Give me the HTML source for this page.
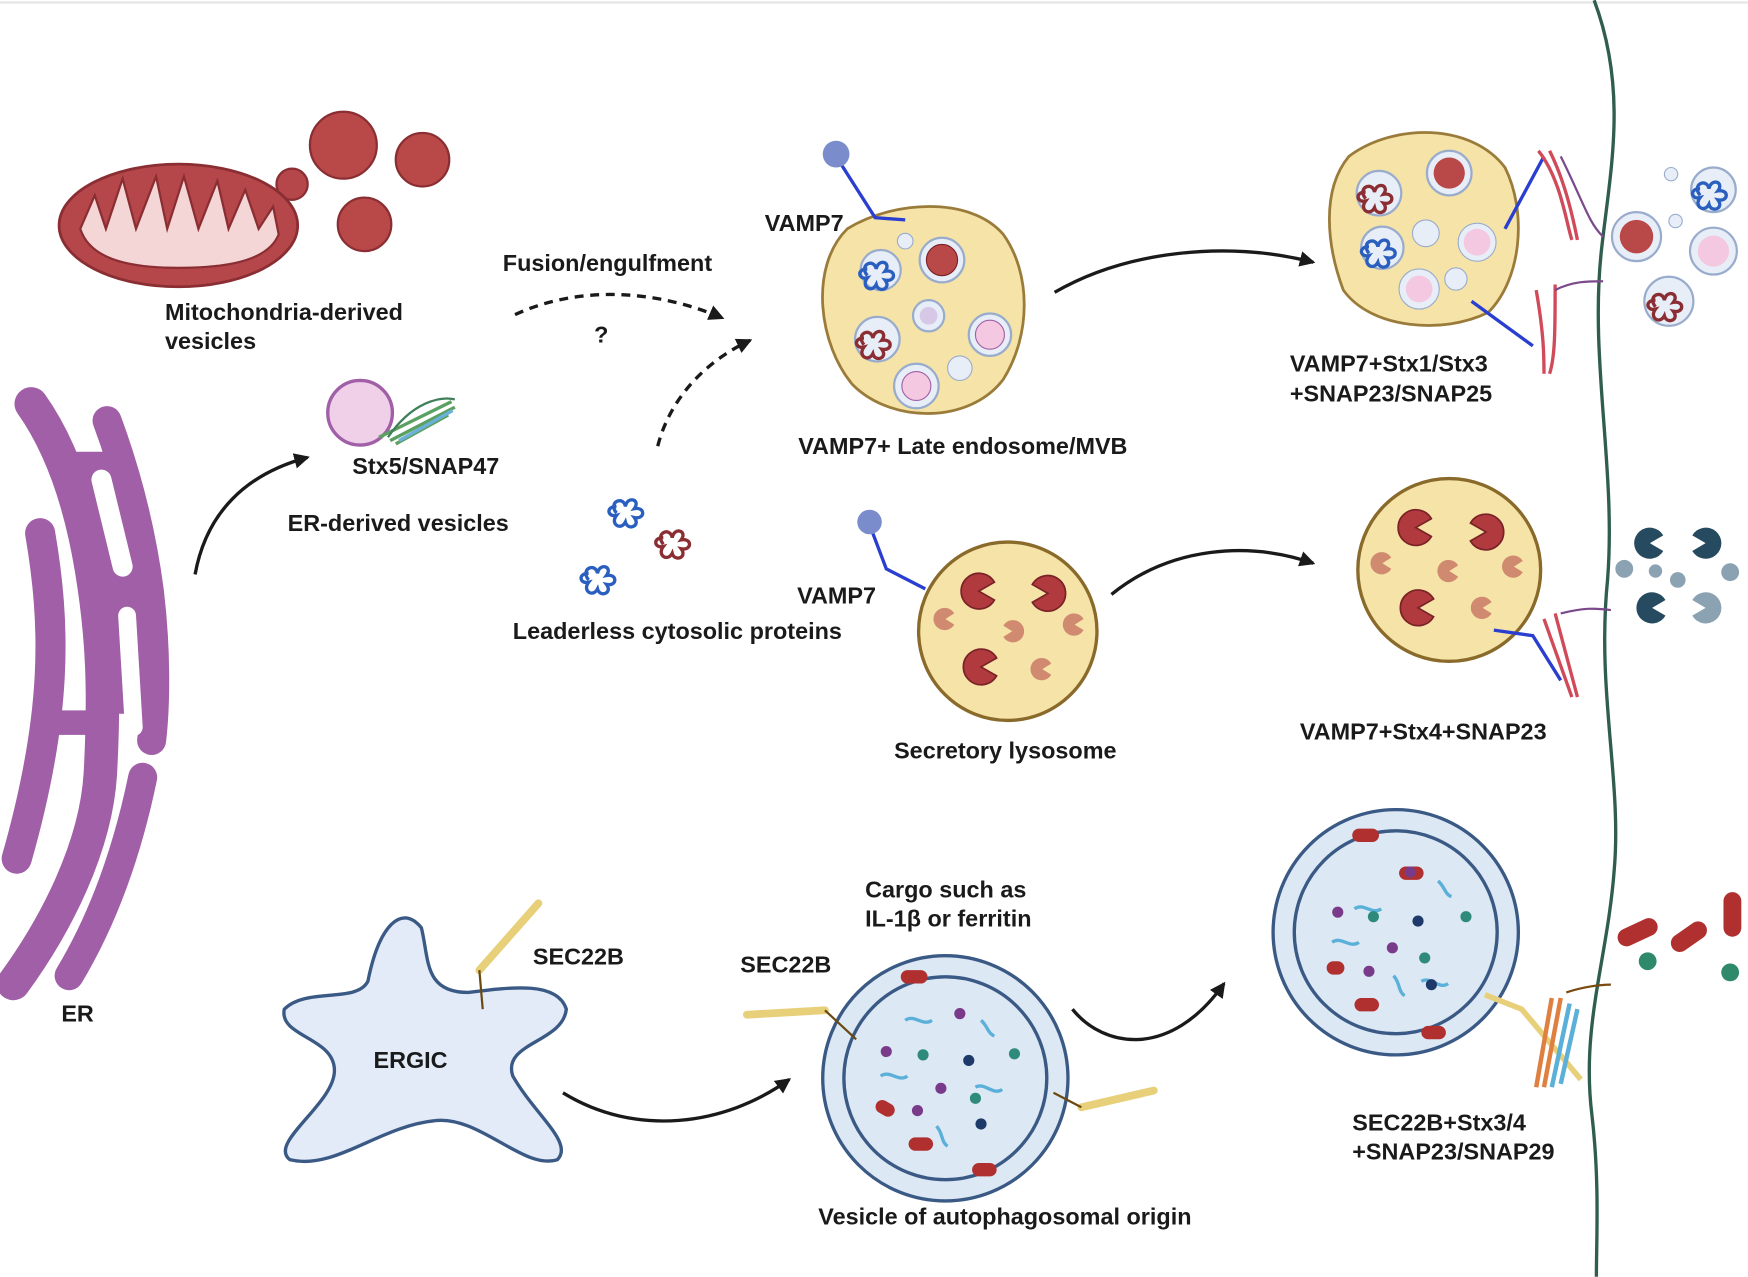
<!DOCTYPE html>
<html><head><meta charset="utf-8"><style>
html,body{margin:0;padding:0;background:#fff;}
svg{display:block;}
text{font-family:"Liberation Sans",sans-serif;font-weight:bold;font-size:21px;fill:#1a1a1a;}
</style></head><body>
<svg width="1748" height="1277" viewBox="0 0 1568 1145" xmlns="http://www.w3.org/2000/svg">
<defs>
<marker id="ah2" markerWidth="14" markerHeight="14" refX="12" refY="7" orient="auto" markerUnits="userSpaceOnUse"><path d="M0,0 L14,7 L0,14 Z" fill="#1a1a1a"/></marker>
<g id="pac"><path d="M0,0 L14,-8 A16,16 0 1 0 14,8 Z" fill="#b03a3e" stroke="#7a2226" stroke-width="1.5"/></g>
<g id="pacs"><path d="M0,0 L8,-5 A10,10 0 1 0 8,5 Z" fill="#d08a70"/></g>
<g id="squig"><path d="M-12,5 c-8,-10 6,-16 8,-6 c2,-10 14,-6 8,2 c10,-2 10,10 0,8 c6,8 -6,12 -8,4 c-4,8 -14,2 -8,-6 c-8,2 -10,-8 0,-8" fill="none" stroke-width="3"/></g>
</defs>
<line x1="0" y1="2" x2="1568" y2="2" stroke="#e5e5e5" stroke-width="2"/>
<!-- membrane -->
<path d="M1430,0 C1460,80 1445,150 1437,220 C1425,320 1450,420 1442,520 C1432,620 1455,700 1448,780 C1442,860 1418,920 1428,1000 C1435,1060 1432,1110 1432,1145" fill="none" stroke="#2f5e4e" stroke-width="3"/>
<!-- mitochondrion -->
<circle cx="262" cy="165" r="14" fill="#b5474b" stroke="#8a2e33" stroke-width="2"/>
<ellipse cx="160" cy="202" rx="107" ry="55" fill="#b5474b" stroke="#8a2e33" stroke-width="2.5"/>
<path d="M72,205 L85,175 L95,205 L110,160 L122,205 L140,158 L150,205 L165,158 L178,205 L195,162 L205,205 L220,170 L232,205 L245,185 L250,210 C240,235 200,240 160,240 C110,240 80,230 72,205 Z" fill="#f4d6d6" stroke="#8a2e33" stroke-width="2"/>
<circle cx="308" cy="130" r="30" fill="#b94848" stroke="#8a2e33" stroke-width="2"/>
<circle cx="379" cy="143" r="24" fill="#b94848" stroke="#8a2e33" stroke-width="2"/>
<circle cx="327" cy="201" r="24" fill="#b94848" stroke="#8a2e33" stroke-width="2"/>
<text x="148" y="287">Mitochondria-derived</text>
<text x="148" y="313">vesicles</text>
<!-- ER -->
<g stroke="#a05fa6" stroke-linecap="round" fill="none">
<path d="M28,362 C55,400 72,450 82,510 C92,570 94,620 90,694 C86,760 50,830 12,882" stroke-width="30"/>
<path d="M96,377 C112,420 126,470 134,530 C140,580 140,630 136,664" stroke-width="26"/>
<path d="M36,478 C50,560 52,640 15,770" stroke-width="27"/>
<path d="M48,648 L90,648" stroke-width="22"/>
<path d="M128,697 C115,760 95,820 62,875" stroke-width="26"/>
</g>
<polygon points="62,405 85,500 93,604 92,640 130,640 140,604 130,484 108,405" fill="#a05fa6"/>
<g stroke="#fff" stroke-linecap="round" fill="none">
<path d="M91,430 L110,508" stroke-width="18"/>
<path d="M114,552 L120,652" stroke-width="16"/>
</g>
<text x="55" y="916">ER</text>
<!-- ER vesicle -->
<path d="M175,515 C185,460 220,425 276,410" fill="none" stroke="#1a1a1a" stroke-width="3" marker-end="url(#ah2)"/>
<circle cx="323" cy="370" r="29" fill="#f0d0e8" stroke="#a05fa6" stroke-width="3"/>
<path d="M340,392 L405,360 M350,395 L408,365 M355,398 L402,372" stroke="#5aa060" stroke-width="3"/>
<path d="M348,392 C370,360 395,355 408,358" fill="none" stroke="#3f7f5a" stroke-width="2"/>
<path d="M358,395 L406,368" stroke="#6ab0d8" stroke-width="3"/>
<text x="316" y="425">Stx5/SNAP47</text>
<text x="258" y="476">ER-derived vesicles</text>
<!-- dashed arrows -->
<path d="M462,282 C520,255 590,260 648,285" fill="none" stroke="#1a1a1a" stroke-width="3" stroke-dasharray="8,6" marker-end="url(#ah2)"/>
<path d="M590,400 C600,360 630,325 673,305" fill="none" stroke="#1a1a1a" stroke-width="3" stroke-dasharray="8,6" marker-end="url(#ah2)"/>
<text x="451" y="243">Fusion/engulfment</text>
<text x="533" y="307">?</text>
<use href="#squig" x="565" y="455" stroke="#2a5fc0"/>
<use href="#squig" x="607" y="483" stroke="#8a2e33"/>
<use href="#squig" x="540" y="515" stroke="#2a5fc0"/>
<text x="460" y="573">Leaderless cytosolic proteins</text>
<!-- late endosome -->
<path d="M760,205 C800,180 870,175 900,210 C925,245 925,300 900,340 C870,380 800,380 765,345 C735,310 725,240 760,205 Z" fill="#f5e3a8" stroke="#9a7b3a" stroke-width="2.5"/>
<path d="M750,140 L785,195 L812,197" fill="none" stroke="#2a3fd0" stroke-width="3"/>
<circle cx="750" cy="138" r="12" fill="#7a8ccc"/>
<circle cx="845" cy="233" r="20" fill="#e8eef8" stroke="#9aaccc" stroke-width="2"/><circle cx="845" cy="233" r="14" fill="#b94848" stroke="#7a2226"/>
<circle cx="790" cy="242" r="18" fill="#e8eef8" stroke="#9aaccc" stroke-width="2"/>
<circle cx="812" cy="216" r="7" fill="#e8eef8" stroke="#9aaccc"/>
<circle cx="833" cy="283" r="14" fill="#e8eef8" stroke="#9aaccc" stroke-width="2"/><circle cx="833" cy="283" r="8" fill="#d8c8e8"/>
<circle cx="787" cy="304" r="20" fill="#e8eef8" stroke="#9aaccc" stroke-width="2"/>
<circle cx="888" cy="300" r="19" fill="#e8eef8" stroke="#9aaccc" stroke-width="2"/><circle cx="888" cy="300" r="13" fill="#f4c8e0" stroke="#a05fa6"/>
<circle cx="861" cy="330" r="11" fill="#e8eef8" stroke="#9aaccc"/>
<circle cx="822" cy="346" r="20" fill="#e8eef8" stroke="#9aaccc" stroke-width="2"/><circle cx="822" cy="346" r="13" fill="#f4c8e0" stroke="#a05fa6"/>
<text x="686" y="207">VAMP7</text>
<text x="716" y="407">VAMP7+ Late endosome/MVB</text>
<path d="M946,262 C1010,225 1100,215 1178,235" fill="none" stroke="#1a1a1a" stroke-width="3" marker-end="url(#ah2)"/>
<!-- right MVB -->
<path d="M1210,140 C1250,110 1320,110 1350,150 C1370,190 1365,250 1335,280 C1295,300 1230,295 1205,260 C1190,220 1185,170 1210,140 Z" fill="#f5e3a8" stroke="#9a7b3a" stroke-width="2.5"/>
<circle cx="1300" cy="155" r="20" fill="#e8eef8" stroke="#9aaccc" stroke-width="2"/><circle cx="1300" cy="155" r="14" fill="#b94848"/>
<circle cx="1237" cy="173" r="20" fill="#e8eef8" stroke="#9aaccc" stroke-width="2"/>
<circle cx="1240" cy="222" r="19" fill="#e8eef8" stroke="#9aaccc" stroke-width="2"/>
<circle cx="1279" cy="209" r="12" fill="#e8eef8" stroke="#9aaccc"/>
<circle cx="1325" cy="217" r="17" fill="#e8eef8" stroke="#9aaccc"/><circle cx="1325" cy="217" r="12" fill="#f4c8e0"/>
<circle cx="1273" cy="259" r="18" fill="#e8eef8" stroke="#9aaccc"/><circle cx="1273" cy="259" r="12" fill="#f4c8e0"/>
<circle cx="1306" cy="250" r="10" fill="#e8eef8" stroke="#9aaccc"/>
<path d="M1350,205 L1385,140 M1320,270 L1375,310" stroke="#2a3fd0" stroke-width="3"/>
<path d="M1380,135 C1400,160 1405,200 1410,215 M1390,135 C1405,165 1412,200 1415,215 M1378,260 C1385,300 1385,320 1385,335 M1395,255 C1395,295 1395,320 1390,335" stroke="#d04a5a" stroke-width="3" fill="none"/>
<path d="M1400,140 C1420,180 1425,200 1438,212 M1395,260 C1410,252 1425,252 1438,252" stroke="#7a4a8a" stroke-width="2" fill="none"/>
<text x="1157" y="333">VAMP7+Stx1/Stx3</text>
<text x="1157" y="360">+SNAP23/SNAP25</text>
<circle cx="1468" cy="212" r="22" fill="#e8eef8" stroke="#9aaccc" stroke-width="2"/><circle cx="1468" cy="212" r="15" fill="#b94848"/>
<circle cx="1537" cy="170" r="20" fill="#e8eef8" stroke="#9aaccc" stroke-width="2"/>
<circle cx="1537" cy="225" r="21" fill="#e8eef8" stroke="#9aaccc" stroke-width="2"/><circle cx="1537" cy="225" r="14" fill="#f4c8e0"/>
<circle cx="1497" cy="270" r="22" fill="#e8eef8" stroke="#9aaccc" stroke-width="2"/>
<circle cx="1499" cy="156" r="6" fill="#e8eef8" stroke="#9aaccc"/><circle cx="1503" cy="198" r="6" fill="#e8eef8" stroke="#9aaccc"/>
<use href="#squig" x="1237" y="173" stroke="#8a2e33"/><use href="#squig" x="1240" y="222" stroke="#2a5fc0"/><use href="#squig" x="1537" y="170" stroke="#2a5fc0"/><use href="#squig" x="1497" y="270" stroke="#8a2e33"/><use href="#squig" x="790" y="242" stroke="#2a5fc0"/><use href="#squig" x="787" y="304" stroke="#8a2e33"/>
<!-- secretory lysosome -->
<path d="M778,465 L795,510 L830,528" fill="none" stroke="#2a3fd0" stroke-width="3"/>
<circle cx="780" cy="468" r="11" fill="#7a8ccc"/>
<circle cx="904" cy="566" r="80" fill="#f5e3a8" stroke="#8a6a2a" stroke-width="3"/>
<use href="#pac" x="878" y="530"/><use href="#pac" x="940" y="532" transform="rotate(180 940 532)"/>
<use href="#pac" x="880" y="598"/><use href="#pacs" x="848" y="555"/><use href="#pacs" x="908" y="566" transform="rotate(180 908 566)"/>
<use href="#pacs" x="964" y="560"/><use href="#pacs" x="935" y="600"/>
<text x="715" y="541">VAMP7</text>
<text x="802" y="680">Secretory lysosome</text>
<path d="M997,533 C1050,490 1120,485 1178,505" fill="none" stroke="#1a1a1a" stroke-width="3" marker-end="url(#ah2)"/>
<circle cx="1300" cy="511" r="82" fill="#f5e3a8" stroke="#8a6a2a" stroke-width="3"/>
<use href="#pac" x="1270" y="473"/><use href="#pac" x="1333" y="477" transform="rotate(180 1333 477)"/>
<use href="#pac" x="1272" y="545"/><use href="#pacs" x="1240" y="505"/><use href="#pacs" x="1300" y="512"/><use href="#pacs" x="1358" y="508"/><use href="#pacs" x="1330" y="545"/>
<path d="M1340,565 L1375,570 L1400,610" stroke="#2a3fd0" stroke-width="3" fill="none"/>
<path d="M1385,555 L1410,625 M1395,550 L1415,625" stroke="#d04a5a" stroke-width="3"/>
<path d="M1400,550 C1420,545 1430,545 1445,547" stroke="#7a4a8a" stroke-width="2" fill="none"/>
<text x="1166" y="663">VAMP7+Stx4+SNAP23</text>
<path d="M1480,487 L1492,480 A14,14 0 1 0 1492,494 Z" fill="#264a5f"/>
<path d="M1530,487 L1518,480 A14,14 0 1 1 1518,494 Z" fill="#264a5f"/>
<path d="M1482,545 L1494,538 A14,14 0 1 0 1494,552 Z" fill="#264a5f"/>
<path d="M1530,545 L1518,538 A14,14 0 1 1 1518,552 Z" fill="#8aa2b2"/>
<circle cx="1457" cy="510" r="8" fill="#8aa2b2"/><circle cx="1505" cy="520" r="7" fill="#8aa2b2"/><circle cx="1552" cy="513" r="8" fill="#8aa2b2"/><circle cx="1485" cy="512" r="6" fill="#8aa2b2"/>
<!-- ERGIC -->
<path d="M330,880 C340,830 360,810 378,832 C385,860 380,890 420,890 C460,885 500,880 508,905 C505,935 450,935 460,965 C480,1000 515,1025 500,1040 C470,1050 430,1000 390,1005 C340,1010 300,1050 260,1040 C240,1025 300,990 300,960 C300,930 250,930 255,905 C275,885 320,900 330,880 Z" fill="#e2ebf7" stroke="#3a5a85" stroke-width="3"/>
<path d="M430,870 L483,810" stroke="#e8d07a" stroke-width="7" stroke-linecap="round"/>
<path d="M430,870 L433,905" stroke="#6a4a10" stroke-width="2"/>
<text x="335" y="958">ERGIC</text>
<text x="478" y="865">SEC22B</text>
<path d="M505,980 C570,1020 650,1010 708,968" fill="none" stroke="#1a1a1a" stroke-width="3" marker-end="url(#ah2)"/>
<!-- autophagosome -->
<circle cx="848" cy="967" r="110" fill="#dde8f5" stroke="#3a5a85" stroke-width="3"/>
<circle cx="848" cy="967" r="91" fill="#dde8f5" stroke="#3a5a85" stroke-width="3"/>
<path d="M670,910 L740,906" stroke="#e8d07a" stroke-width="7" stroke-linecap="round"/><path d="M740,906 L768,932" stroke="#6a4a10" stroke-width="2"/>
<path d="M970,993 L1035,978" stroke="#e8d07a" stroke-width="7" stroke-linecap="round"/><path d="M945,980 L970,993" stroke="#6a4a10" stroke-width="2"/>
<g fill="#b03030"><rect x="808" y="870" width="24" height="12" rx="6"/><rect x="785" y="988" width="18" height="12" rx="6" transform="rotate(30 794 994)"/><rect x="815" y="1020" width="22" height="12" rx="6"/><rect x="872" y="1043" width="22" height="12" rx="6"/></g>
<g fill="none" stroke="#5ab0d8" stroke-width="3"><path d="M812,915 c8,-6 16,6 24,0"/><path d="M880,915 c6,5 6,12 12,14"/><path d="M790,965 c8,-6 16,6 24,0"/><path d="M875,975 c8,-5 16,8 24,2"/><path d="M840,1010 c6,6 4,14 10,18"/></g>
<g fill="#2e8a7a"><circle cx="828" cy="946" r="5"/><circle cx="910" cy="945" r="5"/><circle cx="875" cy="985" r="5"/></g>
<g fill="#1e3a6a"><circle cx="869" cy="951" r="5"/><circle cx="880" cy="1008" r="5"/></g>
<g fill="#7a3a8a"><circle cx="861" cy="909" r="5"/><circle cx="795" cy="943" r="5"/><circle cx="844" cy="976" r="5"/><circle cx="823" cy="996" r="5"/></g>
<text x="776" y="805">Cargo such as</text>
<text x="776" y="831">IL-1β or ferritin</text>
<text x="664" y="872">SEC22B</text>
<text x="734" y="1098">Vesicle of autophagosomal origin</text>
<path d="M962,905 C990,940 1050,950 1098,882" fill="none" stroke="#1a1a1a" stroke-width="3" marker-end="url(#ah2)"/>
<circle cx="1252" cy="836" r="110" fill="#dde8f5" stroke="#3a5a85" stroke-width="3"/>
<circle cx="1252" cy="836" r="91" fill="#dde8f5" stroke="#3a5a85" stroke-width="3"/>
<g fill="#b03030"><rect x="1213" y="743" width="24" height="12" rx="6"/><rect x="1255" y="777" width="22" height="12" rx="6"/><rect x="1190" y="862" width="16" height="12" rx="6"/><rect x="1215" y="895" width="22" height="12" rx="6"/><rect x="1275" y="920" width="22" height="12" rx="6"/></g>
<g fill="none" stroke="#5ab0d8" stroke-width="3"><path d="M1215,815 c8,-6 16,6 24,0"/><path d="M1290,790 c6,5 6,12 12,14"/><path d="M1195,845 c8,-6 16,6 24,0"/><path d="M1275,880 c8,-5 16,8 24,2"/><path d="M1250,875 c6,6 4,14 10,18"/></g>
<g fill="#2e8a7a"><circle cx="1232" cy="822" r="5"/><circle cx="1315" cy="822" r="5"/><circle cx="1278" cy="859" r="5"/></g>
<g fill="#1e3a6a"><circle cx="1272" cy="826" r="5"/><circle cx="1284" cy="883" r="5"/></g>
<g fill="#7a3a8a"><circle cx="1265" cy="782" r="5"/><circle cx="1200" cy="818" r="5"/><circle cx="1249" cy="850" r="5"/><circle cx="1228" cy="871" r="5"/></g>
<path d="M1332,892 L1365,905 L1418,968" stroke="#e8d07a" stroke-width="5" fill="none"/>
<path d="M1392,895 L1378,975 M1400,895 L1385,975" stroke="#e08040" stroke-width="4"/>
<path d="M1408,900 L1392,975 M1415,905 L1400,972" stroke="#5ab0d8" stroke-width="4"/>
<path d="M1405,890 C1420,885 1435,883 1445,883" stroke="#7a4a10" stroke-width="2" fill="none"/>
<text x="1213" y="1014">SEC22B+Stx3/4</text>
<text x="1213" y="1040">+SNAP23/SNAP29</text>
<g fill="#b03030"><rect x="1450" y="828" width="38" height="16" rx="8" transform="rotate(-25 1469 836)"/><rect x="1497" y="832" width="36" height="16" rx="8" transform="rotate(-35 1515 840)"/><rect x="1546" y="800" width="16" height="40" rx="8"/></g>
<circle cx="1478" cy="862" r="8" fill="#2e8a6a"/><circle cx="1552" cy="872" r="8" fill="#2e8a6a"/>
</svg>
</body></html>
